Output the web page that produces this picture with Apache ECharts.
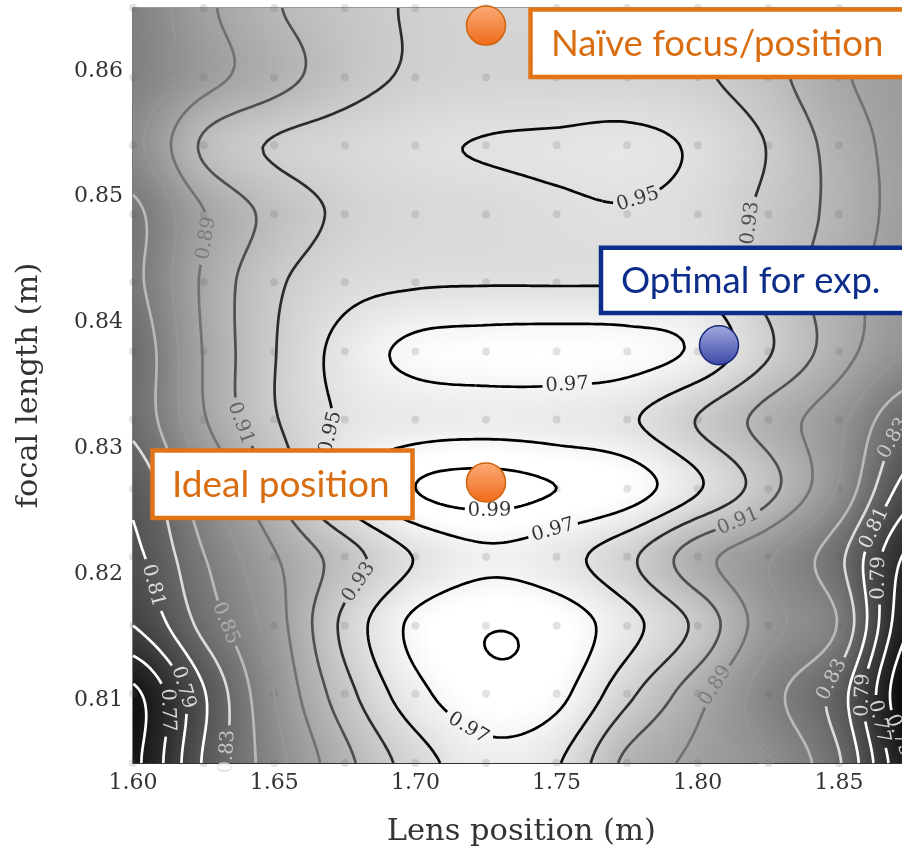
<!DOCTYPE html>
<html>
<head>
<meta charset="utf-8">
<script src="https://cdn.jsdelivr.net/npm/echarts@6/dist/echarts.min.js"></script>
<style>
  html, body { margin: 0; padding: 0; background: #ffffff; }
  #chart { width: 902px; height: 851px; }
</style>
</head>
<body>
<div id="chart"></div>
<script>
// Sample positions of the scan
const lensPositions = [1.600, 1.625, 1.650, 1.675, 1.700, 1.725, 1.750, 1.775, 1.800, 1.825, 1.850, 1.875];
const focalLengths = [0.8050, 0.8105, 0.8159, 0.8214, 0.8268, 0.8323, 0.8377, 0.8432, 0.8486, 0.8541, 0.8595, 0.8650];

// Normalised score at every sample, one row per focal length (bottom row first)
const score_f0805 = [0.745, 0.812, 0.862, 0.904, 0.940, 0.962, 0.952, 0.905, 0.885, 0.868, 0.832, 0.750];
const score_f0810 = [0.745, 0.808, 0.870, 0.922, 0.963, 0.984, 0.976, 0.935, 0.897, 0.858, 0.820, 0.730];
const score_f0816 = [0.790, 0.836, 0.880, 0.935, 0.975, 0.989, 0.983, 0.957, 0.925, 0.877, 0.848, 0.750];
const score_f0821 = [0.805, 0.849, 0.888, 0.920, 0.951, 0.966, 0.958, 0.935, 0.898, 0.872, 0.835, 0.765];
const score_f0827 = [0.815, 0.865, 0.910, 0.960, 0.990, 0.997, 0.990, 0.980, 0.952, 0.917, 0.868, 0.800];
const score_f0832 = [0.835, 0.888, 0.928, 0.953, 0.960, 0.962, 0.960, 0.953, 0.929, 0.902, 0.875, 0.830];
const score_f0838 = [0.835, 0.891, 0.929, 0.957, 0.975, 0.979, 0.980, 0.978, 0.966, 0.932, 0.899, 0.870];
const score_f0843 = [0.845, 0.893, 0.926, 0.943, 0.948, 0.949, 0.949, 0.949, 0.948, 0.923, 0.899, 0.878];
const score_f0849 = [0.845, 0.889, 0.916, 0.934, 0.941, 0.943, 0.947, 0.949, 0.944, 0.925, 0.904, 0.882];
const score_f0854 = [0.865, 0.913, 0.932, 0.940, 0.947, 0.951, 0.953, 0.955, 0.947, 0.929, 0.902, 0.882];
const score_f0860 = [0.855, 0.882, 0.902, 0.921, 0.933, 0.937, 0.937, 0.937, 0.933, 0.917, 0.893, 0.880];
const score_f0865 = [0.855, 0.885, 0.908, 0.922, 0.932, 0.937, 0.939, 0.937, 0.932, 0.915, 0.892, 0.880];
const scoreRows = [score_f0805, score_f0810, score_f0816, score_f0821, score_f0827, score_f0832,
                   score_f0838, score_f0843, score_f0849, score_f0854, score_f0860, score_f0865];

// Contour levels and axis ticks
const contourLevels = [0.75, 0.77, 0.79, 0.81, 0.83, 0.85, 0.87, 0.89, 0.91, 0.93, 0.95, 0.97, 0.99];
const xTicks = [1.60, 1.65, 1.70, 1.75, 1.80, 1.85];
const yTicks = [0.81, 0.82, 0.83, 0.84, 0.85, 0.86];

// Where the inline contour labels go: level, lens position, focal length
const labelLevels = [0.95, 0.93, 0.89, 0.91, 0.95, 0.97, 0.99, 0.97, 0.93, 0.85, 0.87, 0.81, 0.79, 0.77,
                     0.83, 0.97, 0.89, 0.91, 0.83, 0.87, 0.79, 0.81, 0.79, 0.77, 0.75, 0.83, 0.87];
const labelLens = [1.7785, 1.8167, 1.6262, 1.6358, 1.6669, 1.7530, 1.7257, 1.7494, 1.6793, 1.6312, 1.6460, 1.6060, 1.6177, 1.6085,
                   1.6315, 1.7204, 1.8079, 1.8132, 1.8461, 1.8263, 1.8645, 1.8645, 1.8574, 1.8617, 1.8691, 1.8705, 1.6120];
const labelFocal = [0.8497, 0.8480, 0.8467, 0.8318, 0.8315, 0.8356, 0.8250, 0.8230, 0.8193, 0.8158, 0.8134, 0.8189, 0.8110, 0.8091,
                    0.8060, 0.8084, 0.8110, 0.8247, 0.8119, 0.8068, 0.8198, 0.8235, 0.8103, 0.8083, 0.8071, 0.8308, 0.8603];

// Highlighted settings
const pointNames = ['Naïve focus/position', 'Optimal for exp.', 'Ideal position'];
const pointLens = [1.725, 1.8075, 1.725];
const pointFocal = [0.8636, 0.8382, 0.8273];

const X0 = lensPositions[0], X1 = lensPositions[lensPositions.length - 1];
const Y0 = focalLengths[0], Y1 = focalLengths[focalLengths.length - 1];
const NXS = lensPositions.length, NYS = focalLengths.length;
const VMIN = 0.725, VMAX = 0.98;

// Catmull-Rom surface through the samples
function cubic(p0, p1, p2, p3, t) {
  return p1 + 0.5 * t * (p2 - p0 + t * (2 * p0 - 5 * p1 + 4 * p2 - p3 + t * (3 * (p1 - p2) + p3 - p0)));
}
function sampleAt(i, j) {
  i = Math.max(0, Math.min(NXS - 1, i));
  j = Math.max(0, Math.min(NYS - 1, j));
  return scoreRows[j][i];
}
function scoreAt(x, y) {
  const gx = (x - X0) / (X1 - X0) * (NXS - 1);
  const gy = (y - Y0) / (Y1 - Y0) * (NYS - 1);
  const ix = Math.max(0, Math.min(NXS - 2, Math.floor(gx)));
  const iy = Math.max(0, Math.min(NYS - 2, Math.floor(gy)));
  const tx = gx - ix, ty = gy - iy;
  const col = [];
  for (let m = -1; m <= 2; m++) {
    col.push(cubic(sampleAt(ix - 1, iy + m), sampleAt(ix, iy + m), sampleAt(ix + 1, iy + m), sampleAt(ix + 2, iy + m), tx));
  }
  return cubic(col[0], col[1], col[2], col[3], ty);
}
function grayOf(v) {
  const t = Math.max(0, Math.min(1, (v - VMIN) / (VMAX - VMIN)));
  return Math.round(t * 255);
}
function lineColor(lv) {
  const t = Math.max(0, Math.min(1, (0.955 - lv) / (0.955 - 0.81)));
  const g = Math.round(t * 255);
  return 'rgb(' + g + ',' + g + ',' + g + ')';
}

// Grey field image
const RW = 300, RH = 260;
const raster = document.createElement('canvas');
raster.width = RW; raster.height = RH;
(function () {
  const ctx = raster.getContext('2d');
  const img = ctx.createImageData(RW, RH);
  for (let j = 0; j < RH; j++) {
    const y = Y1 - (j + 0.5) / RH * (Y1 - Y0);
    for (let i = 0; i < RW; i++) {
      const x = X0 + (i + 0.5) / RW * (X1 - X0);
      const g = grayOf(scoreAt(x, y));
      const k = (j * RW + i) * 4;
      img.data[k] = g; img.data[k + 1] = g; img.data[k + 2] = g; img.data[k + 3] = 255;
    }
  }
  ctx.putImageData(img, 0, 0);
})();

// Marching squares on a fine evaluation of the surface
const CX = 221, CY = 201;
const gxv = [], gyv = [];
for (let i = 0; i < CX; i++) gxv.push(X0 + i * (X1 - X0) / (CX - 1));
for (let j = 0; j < CY; j++) gyv.push(Y0 + j * (Y1 - Y0) / (CY - 1));
const F = new Float64Array(CX * CY);
for (let j = 0; j < CY; j++) for (let i = 0; i < CX; i++) F[j * CX + i] = scoreAt(gxv[i], gyv[j]);

function traceLevel(L) {
  const pts = new Map();
  const segs = [];
  const hKey = (i, j) => (j * CX + i) * 2;
  const vKey = (i, j) => (j * CX + i) * 2 + 1;
  function hPt(i, j) {
    const k = hKey(i, j);
    if (!pts.has(k)) {
      const a = F[j * CX + i], b = F[j * CX + i + 1];
      const t = (L - a) / (b - a);
      pts.set(k, [gxv[i] + t * (gxv[i + 1] - gxv[i]), gyv[j]]);
    }
    return k;
  }
  function vPt(i, j) {
    const k = vKey(i, j);
    if (!pts.has(k)) {
      const a = F[j * CX + i], b = F[(j + 1) * CX + i];
      const t = (L - a) / (b - a);
      pts.set(k, [gxv[i], gyv[j] + t * (gyv[j + 1] - gyv[j])]);
    }
    return k;
  }
  for (let j = 0; j < CY - 1; j++) {
    for (let i = 0; i < CX - 1; i++) {
      const bl = F[j * CX + i], br = F[j * CX + i + 1];
      const tr = F[(j + 1) * CX + i + 1], tl = F[(j + 1) * CX + i];
      const c = (tl >= L ? 8 : 0) | (tr >= L ? 4 : 0) | (br >= L ? 2 : 0) | (bl >= L ? 1 : 0);
      if (c === 0 || c === 15) continue;
      const B = () => hPt(i, j), T = () => hPt(i, j + 1), Lf = () => vPt(i, j), R = () => vPt(i + 1, j);
      const centre = (bl + br + tr + tl) / 4 >= L;
      switch (c) {
        case 1: case 14: segs.push([Lf(), B()]); break;
        case 2: case 13: segs.push([B(), R()]); break;
        case 3: case 12: segs.push([Lf(), R()]); break;
        case 4: case 11: segs.push([R(), T()]); break;
        case 6: case 9: segs.push([B(), T()]); break;
        case 7: case 8: segs.push([Lf(), T()]); break;
        case 5:
          if (centre) { segs.push([Lf(), T()]); segs.push([B(), R()]); }
          else { segs.push([Lf(), B()]); segs.push([R(), T()]); }
          break;
        case 10:
          if (centre) { segs.push([Lf(), B()]); segs.push([R(), T()]); }
          else { segs.push([Lf(), T()]); segs.push([B(), R()]); }
          break;
      }
    }
  }
  const adj = new Map();
  segs.forEach((s, n) => {
    for (const e of s) { if (!adj.has(e)) adj.set(e, []); adj.get(e).push(n); }
  });
  const used = new Uint8Array(segs.length);
  const lines = [];
  for (let n = 0; n < segs.length; n++) {
    if (used[n]) continue;
    used[n] = 1;
    const chain = [segs[n][0], segs[n][1]];
    let cur = segs[n][1];
    while (true) {
      const nx = (adj.get(cur) || []).find(t => !used[t]);
      if (nx === undefined) break;
      used[nx] = 1;
      cur = segs[nx][0] === cur ? segs[nx][1] : segs[nx][0];
      chain.push(cur);
    }
    cur = segs[n][0];
    while (true) {
      const nx = (adj.get(cur) || []).find(t => !used[t]);
      if (nx === undefined) break;
      used[nx] = 1;
      cur = segs[nx][0] === cur ? segs[nx][1] : segs[nx][0];
      chain.unshift(cur);
    }
    lines.push(chain.map(k => pts.get(k)));
  }
  return lines;
}

const chart = echarts.init(document.getElementById('chart'), null, { renderer: 'canvas' });
const serif = 'DejaVu Serif';

const baseOption = {
  animation: false,
  backgroundColor: '#ffffff',
  grid: {
    left: 133, top: 8, right: -7.6, bottom: 88, outerBoundsMode: 'none', containLabel: false,
    show: true, borderColor: '#333333', borderWidth: 1.2, backgroundColor: 'transparent'
  },
  xAxis: {
    type: 'value', min: X0, max: X1,
    splitLine: { show: false },
    axisLine: { show: true, lineStyle: { color: '#333333', width: 1.2 } },
    axisTick: { show: true, inside: true, length: 7, customValues: xTicks, lineStyle: { color: '#333333', width: 1.2 } },
    axisLabel: { customValues: xTicks, formatter: v => v.toFixed(2), fontFamily: serif, fontSize: 22, color: '#333333', margin: 9 },
    name: 'Lens position (m)', nameLocation: 'middle', nameGap: 54,
    nameTextStyle: { fontFamily: serif, fontSize: 30.5, color: '#333333' }
  },
  yAxis: {
    type: 'value', min: Y0, max: Y1,
    splitLine: { show: false },
    axisLine: { show: true, lineStyle: { color: '#333333', width: 1.2 } },
    axisTick: { show: true, inside: true, length: 7, customValues: yTicks, lineStyle: { color: '#333333', width: 1.2 } },
    axisLabel: { customValues: yTicks, formatter: v => v.toFixed(2), fontFamily: serif, fontSize: 22, color: '#333333', margin: 10 },
    name: 'focal length (m)', nameLocation: 'middle', nameGap: 88,
    nameTextStyle: { fontFamily: serif, fontSize: 30.5, color: '#333333' }
  },
  series: []
};
chart.setOption(baseOption);

const toPx = (x, y) => chart.convertToPixel({ gridIndex: 0 }, [x, y]);

// Contours per level, with pixel positions for label placement
const levelLines = contourLevels.map(L => traceLevel(L).map(line => line.map(p => {
  const q = toPx(p[0], p[1]);
  return [p[0], p[1], q[0], q[1]];
})));

// Inline labels: snap to the nearest contour of the level, align with it, open a gap
const GAP = 24;
const cuts = contourLevels.map(() => []);
const labelData = [];
labelLevels.forEach((lv, n) => {
  const li = contourLevels.findIndex(v => Math.abs(v - lv) < 1e-9);
  if (li < 0) return;
  const target = toPx(labelLens[n], labelFocal[n]);
  let best = null;
  levelLines[li].forEach((line, a) => {
    line.forEach((p, b) => {
      const d = Math.hypot(p[2] - target[0], p[3] - target[1]);
      if (!best || d < best.d) best = { d, a, b };
    });
  });
  if (!best || best.d > 40) return;
  const line = levelLines[li][best.a];
  const p = line[best.b];
  const p1 = line[Math.max(0, best.b - 3)], p2 = line[Math.min(line.length - 1, best.b + 3)];
  let ang = Math.atan2(-(p2[3] - p1[3]), p2[2] - p1[2]) * 180 / Math.PI;
  if (ang > 90) ang -= 180;
  if (ang <= -90) ang += 180;
  cuts[li].push([p[2], p[3]]);
  labelData.push({
    name: lv.toFixed(2),
    value: [p[0], p[1]],
    label: { rotate: ang, color: lineColor(lv) }
  });
});

const lineSeries = [];
levelLines.forEach((lines, li) => {
  const lv = contourLevels[li];
  lines.forEach(line => {
    let piece = [];
    const flush = () => {
      if (piece.length > 1) {
        lineSeries.push({
          type: 'line', data: piece, showSymbol: false, symbol: 'none', silent: true,
          lineStyle: { color: lineColor(lv), width: 2.7 }, z: 3, animation: false
        });
      }
      piece = [];
    };
    line.forEach(p => {
      const inGap = cuts[li].some(c => Math.hypot(p[2] - c[0], p[3] - c[1]) < GAP);
      if (inGap) flush(); else piece.push([p[0], p[1]]);
    });
    flush();
  });
});

const sampleDots = [];
focalLengths.forEach(f => lensPositions.forEach(x => sampleDots.push([x, f])));

const orangeFill = new echarts.graphic.LinearGradient(0, 0, 0, 1, [
  { offset: 0, color: '#fbab78' }, { offset: 1, color: '#ef6a18' }]);
const blueFill = new echarts.graphic.LinearGradient(0, 0, 0, 1, [
  { offset: 0, color: '#a3abe0' }, { offset: 1, color: '#3a47a6' }]);
const pointStyles = [
  { color: orangeFill, borderColor: '#cf640e', borderWidth: 1.5, opacity: 1 },
  { color: blueFill, borderColor: '#1b2877', borderWidth: 1.5, opacity: 1 },
  { color: orangeFill, borderColor: '#cf640e', borderWidth: 1.5, opacity: 1 }
];

const orange = '#e07416', orangeText = '#d96d12', navy = '#0d2d8a';

chart.setOption({
  series: [
    {
      type: 'custom', silent: true, z: 1, clip: true,
      data: [[X0, Y0]],
      renderItem: (params, api) => {
        const a = api.coord([X0, Y1]);
        const b = api.coord([X1, Y0]);
        return { type: 'image', style: { image: raster, x: a[0], y: a[1], width: b[0] - a[0], height: b[1] - a[1] } };
      }
    },
    {
      type: 'scatter', data: sampleDots, symbolSize: 8, silent: true, z: 2,
      itemStyle: { color: 'rgba(90,90,90,0.22)' }
    },
    ...lineSeries,
    {
      type: 'scatter', data: labelData, symbolSize: 1, silent: true, z: 4,
      itemStyle: { color: 'rgba(0,0,0,0)' },
      label: { show: true, position: 'inside', formatter: '{b}', fontFamily: serif, fontSize: 19.5 }
    },
    {
      type: 'scatter', clip: false, z: 10, silent: true, symbolSize: 39,
      data: pointNames.map((nm, n) => ({ name: nm, value: [pointLens[n], pointFocal[n]], itemStyle: pointStyles[n] }))
    }
  ],
  graphic: [
    { type: 'rect', z: 100, shape: { x: 530.5, y: 9.5, width: 420, height: 67.5 }, style: { fill: '#ffffff', stroke: orange, lineWidth: 4.5 } },
    { type: 'text', z: 101, style: { x: 551, y: 44, text: pointNames[0], fontFamily: 'Lato', fontSize: 36.5, fill: orangeText, verticalAlign: 'middle' } },
    { type: 'rect', z: 100, shape: { x: 601, y: 247.7, width: 420, height: 65.3 }, style: { fill: '#ffffff', stroke: navy, lineWidth: 4.5 } },
    { type: 'text', z: 101, style: { x: 621, y: 281, text: pointNames[1], fontFamily: 'Lato', fontSize: 36.5, fill: navy, verticalAlign: 'middle' } },
    { type: 'rect', z: 100, shape: { x: 152.5, y: 450.5, width: 260, height: 67.5 }, style: { fill: '#ffffff', stroke: orange, lineWidth: 4.5 } },
    { type: 'text', z: 101, style: { x: 172, y: 485, text: pointNames[2], fontFamily: 'Lato', fontSize: 37, fill: orangeText, verticalAlign: 'middle' } }
  ]
});
</script>
</body>
</html>
